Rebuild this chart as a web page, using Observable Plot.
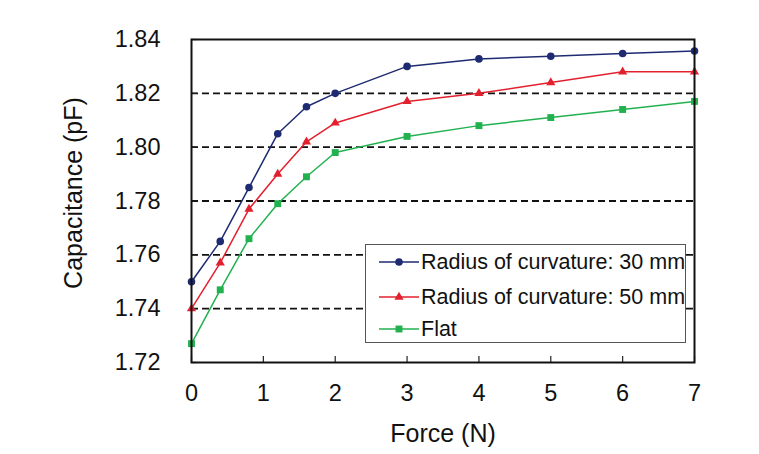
<!DOCTYPE html>
<html>
<head>
<meta charset="utf-8">
<script src="https://cdn.jsdelivr.net/npm/d3@7"></script>
<script src="https://cdn.jsdelivr.net/npm/@observablehq/plot@0.6"></script>
<style>
  body { margin: 0; background: #fff; }
  #chart { position: relative; width: 759px; height: 454px; font-family: "Liberation Sans", Arial, sans-serif; }
  #legend { position: absolute; left: 365px; top: 244px; width: 321px; height: 99px; border: 1px solid #555; background: #fff; box-sizing: border-box; }
  .row { position: absolute; left: 0; height: 30px; display: flex; align-items: center; font-size: 21.5px; color: #111; white-space: nowrap; }
  .row svg { margin-left: 13px; margin-right: 2px; }
</style>
</head>
<body>
<div id="chart"></div>
<script>
const force = [0, 0.4, 0.8, 1.2, 1.6, 2, 3, 4, 5, 6, 7];
const r30 = [1.750, 1.765, 1.785, 1.805, 1.815, 1.820, 1.830, 1.8328, 1.8338, 1.8348, 1.8357];
const r50 = [1.740, 1.757, 1.777, 1.790, 1.802, 1.809, 1.817, 1.820, 1.824, 1.828, 1.828];
const flat = [1.727, 1.747, 1.766, 1.779, 1.789, 1.798, 1.804, 1.808, 1.811, 1.814, 1.817];
const seriesNames = ["Radius of curvature: 30 mm", "Radius of curvature: 50 mm", "Flat"];
const seriesColors = ["#1e2b72", "#e3202e", "#22b14f"];
const seriesSymbols = ["circle", "triangle", "square"];
const seriesR = [3.8, 3.4, 3.9];
const xTicks = [0, 1, 2, 3, 4, 5, 6, 7];
const yTicks = [1.72, 1.74, 1.76, 1.78, 1.80, 1.82, 1.84];
const gridTicks = [1.74, 1.76, 1.78, 1.80, 1.82];

const seriesValues = [r30, r50, flat];
const data = [];
seriesValues.forEach((vals, i) => vals.forEach((v, j) => data.push({series: seriesNames[i], x: force[j], y: v})));

const W = 759, H = 454;
const mL = 191, mR = 65, mT = 39, mB = 92;
const innerW = W - mL - mR, innerH = H - mT - mB;

const plot = Plot.plot({
  width: W, height: H,
  marginLeft: mL, marginRight: mR, marginTop: mT, marginBottom: mB,
  style: { fontFamily: "'Liberation Sans', Arial, sans-serif", background: "#fff", color: "#111" },
  x: { domain: [0, 7], label: null },
  y: { domain: [1.72, 1.84], label: null },
  color: { domain: seriesNames, range: seriesColors },
  symbol: { domain: seriesNames, range: seriesSymbols },
  marks: [
    Plot.ruleY(gridTicks, { y: d => d, stroke: "#111", strokeWidth: 1.8, strokeDasharray: "7,4" }),
    Plot.tickX(xTicks, { x: d => d, insetTop: innerH - 6, stroke: "#222", strokeWidth: 1.2 }),
    Plot.tickY(yTicks, { y: d => d, insetRight: innerW - 6, stroke: "#222", strokeWidth: 1.2 }),
    Plot.axisX(xTicks, { tickSize: 0, tickPadding: 22, fontSize: 23.5, label: null }),
    Plot.axisY(yTicks, { tickSize: 0, tickPadding: 31, fontSize: 23.5, label: null, tickFormat: d3.format(".2f") }),
    Plot.text(["Force (N)"], { frameAnchor: "bottom", dy: 79, fontSize: 25, text: d => d }),
    Plot.text(["Capacitance (pF)"], { frameAnchor: "left", textAnchor: "middle", dx: -118, dy: -8, rotate: -90, fontSize: 25, text: d => d }),
    Plot.line(data, { x: "x", y: "y", z: "series", stroke: "series", strokeWidth: 1.5 }),
    ...seriesNames.map((s, i) => Plot.dot(data.filter(d => d.series === s), { x: "x", y: "y", symbol: "series", fill: "series", r: seriesR[i], stroke: "none" })),
    Plot.frame({ stroke: "#111", strokeWidth: 2 })
  ]
});

const chart = document.getElementById("chart");
chart.appendChild(plot);

const legend = document.createElement("div");
legend.id = "legend";
const rowTops = [2, 37, 69];
seriesNames.forEach((name, i) => {
  const row = document.createElement("div");
  row.className = "row";
  row.style.top = rowTops[i] + "px";
  const sym = d3.symbol(i === 0 ? d3.symbolCircle : i === 1 ? d3.symbolTriangle : d3.symbolSquare, Math.PI * seriesR[i] * seriesR[i])();
  row.innerHTML = `<svg width="40" height="14" viewBox="0 0 40 14"><line x1="0" y1="7" x2="40" y2="7" stroke="${seriesColors[i]}" stroke-width="1.4"/><path d="${sym}" transform="translate(20,7)" fill="${seriesColors[i]}"/></svg><span>${name}</span>`;
  legend.appendChild(row);
});
chart.appendChild(legend);
</script>
</body>
</html>
